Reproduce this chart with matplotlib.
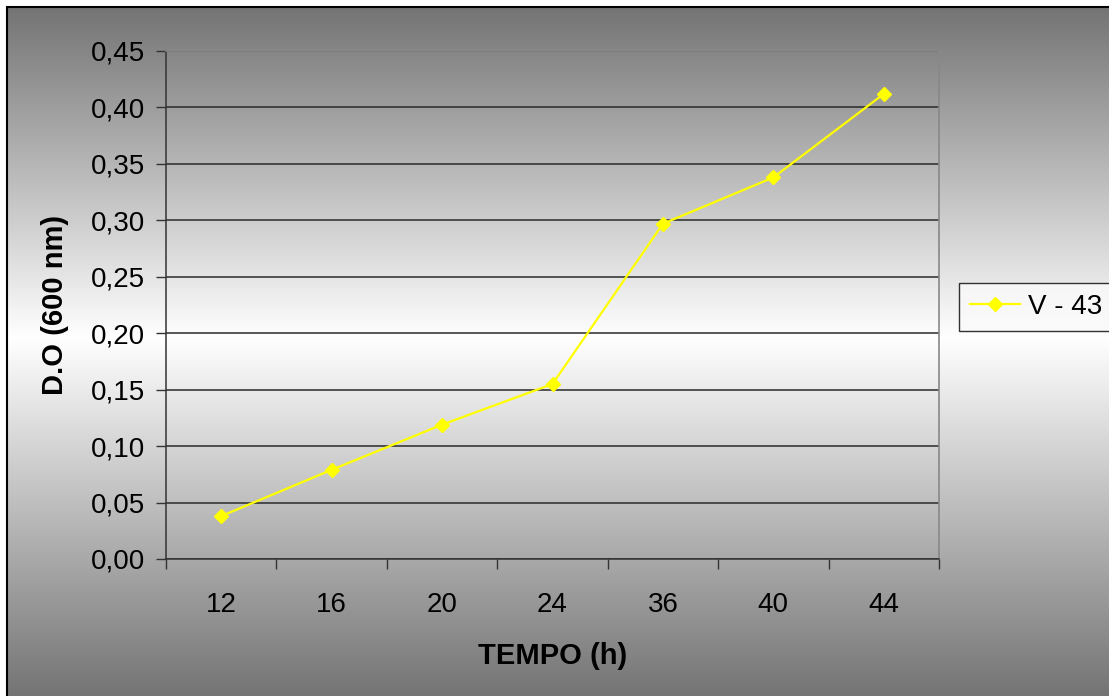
import numpy as np
from matplotlib import pyplot as plt
from matplotlib.colors import LinearSegmentedColormap
from matplotlib.patches import Rectangle
from matplotlib.ticker import FuncFormatter, FixedLocator, NullFormatter

tempos = ['12', '16', '20', '24', '36', '40', '44']
do_v43 = [0.038, 0.079, 0.119, 0.155, 0.297, 0.338, 0.412]
yTicks = [0.0, 0.05, 0.10, 0.15, 0.20, 0.25, 0.30, 0.35, 0.40, 0.45]

plt.rcParams['font.family'] = ['Liberation Sans', 'DejaVu Sans']

fig = plt.figure(figsize=(11.09, 6.96), dpi=100)
fig.patch.set_facecolor('white')

# background gradient: gray - white - gray
bg = fig.add_axes([7 / 1109, 0, 1 - 7 / 1109, 1 - 7 / 696], zorder=-10)
grad = LinearSegmentedColormap.from_list('g', [(0, '#747474'), (0.48, '#ffffff'), (1, '#747474')])
bg.imshow(np.linspace(0, 1, 256).reshape(-1, 1), aspect='auto', cmap=grad,
          extent=[0, 1, 0, 1], origin='upper')
bg.set_axis_off()
fig.add_artist(Rectangle((7 / 1109, -0.01), 1.1, 1 - 7 / 696 + 0.01, transform=fig.transFigure,
                         fill=False, edgecolor='black', lw=1.5))

ax = fig.add_axes([166 / 1109, 1 - 559 / 696, (939 - 166) / 1109, (559 - 51) / 696])
ax.patch.set_alpha(0)
x = np.arange(len(tempos))
ax.plot(x, do_v43, color='#ffff00', lw=1.6, marker='D', markersize=7, label='V - 43', zorder=3)

ax.set_xlim(-0.5, len(tempos) - 0.5)
ax.set_ylim(0, 0.45)
ax.set_yticks(yTicks)
ax.yaxis.set_major_formatter(FuncFormatter(lambda v, p: f'{v:.2f}'.replace('.', ',')))
ax.grid(axis='y', color='#2a2a2a', lw=1.1)
ax.set_axisbelow(True)

ax.xaxis.set_major_locator(FixedLocator(np.arange(-0.5, len(tempos), 1)))
ax.xaxis.set_major_formatter(NullFormatter())
ax.xaxis.set_minor_locator(FixedLocator(x))
ax.set_xticklabels(tempos, minor=True)
ax.tick_params(axis='x', which='minor', length=0, pad=24, labelsize=20)
ax.tick_params(axis='x', which='major', length=7, width=1, color='#333333', direction='out')
ax.tick_params(axis='y', length=7, width=1, color='#333333', pad=8, labelsize=20)

for s in ['top', 'right']:
    ax.spines[s].set_color('#888888')
    ax.spines[s].set_linewidth(1.2)
for s in ['left', 'bottom']:
    ax.spines[s].set_color('#333333')
    ax.spines[s].set_linewidth(1.1)

ax.set_xlabel('TEMPO (h)', fontsize=21, fontweight='bold', labelpad=17)
ax.set_ylabel('D.O (600 nm)', fontsize=21, fontweight='bold', labelpad=16)

leg = ax.legend(loc='upper left', bbox_to_anchor=(959 / 1109, 1 - 283 / 696),
                bbox_transform=fig.transFigure, borderaxespad=0, fontsize=20,
                frameon=True, fancybox=False, handlelength=1.8, handletextpad=0.3,
                borderpad=0.4)
leg.get_frame().set_edgecolor('black')
leg.get_frame().set_facecolor('#fafafa')
leg.get_frame().set_linewidth(1)

fig.savefig('out.png', dpi=100)
